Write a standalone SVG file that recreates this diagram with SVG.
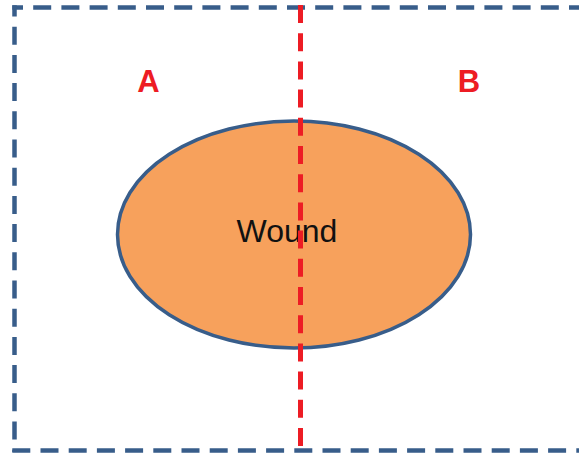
<svg xmlns="http://www.w3.org/2000/svg" width="579" height="456" viewBox="0 0 579 456">
  <style>
    .frame { fill: none; stroke: #385D8A; stroke-width: 4.5; stroke-dasharray: 18 10.2; }
    .divider { fill: none; stroke: #ED1C24; stroke-width: 5; stroke-dasharray: 18 10.2; }
    .region { font-family: "Liberation Sans", Arial, sans-serif; font-weight: bold; font-size: 31px; fill: #ED1C24; text-anchor: middle; }
    .label { font-family: "Liberation Sans", Arial, sans-serif; font-size: 32px; fill: #111111; text-anchor: middle; }
  </style>
  <rect width="579" height="456" fill="#ffffff"/>
  <g id="frame">
    <line class="frame" x1="12.3" y1="7.5" x2="600" y2="7.5" stroke-dashoffset="7.3"/>
    <line class="frame" x1="14.5" y1="5.3" x2="14.5" y2="452" stroke-dashoffset="6.8"/>
    <line class="frame" x1="12.3" y1="450.5" x2="600" y2="450.5"/>
  </g>
  <g id="label-a">
    <text class="region" x="148.5" y="91.5">A</text>
  </g>
  <g id="label-b">
    <text class="region" x="469" y="91.5">B</text>
  </g>
  <g id="wound">
    <ellipse cx="294" cy="234.5" rx="176.5" ry="113.5" fill="#F7A15C" stroke="#385D8A" stroke-width="3.5"/>
    <text class="label" x="287" y="241.5">Wound</text>
  </g>
  <g id="connectors">
    <line class="divider" x1="300.5" y1="5" x2="300.5" y2="447"/>
  </g>
</svg>
